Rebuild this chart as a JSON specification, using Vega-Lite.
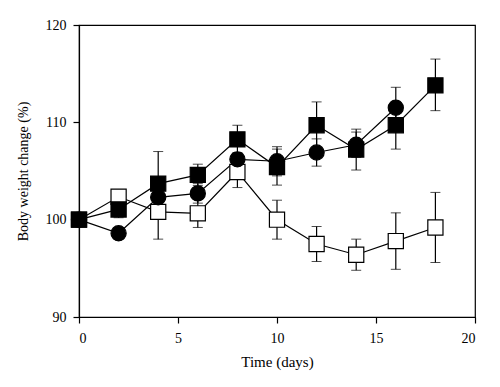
{
  "$schema": "https://vega.github.io/schema/vega-lite/v6.json",
  "autosize": "none",
  "width": 396,
  "height": 292,
  "padding": {"left": 79, "top": 25, "right": 25, "bottom": 70},
  "background": "white",
  "config": {
    "view": {"stroke": "black", "strokeWidth": 1.2},
    "font": "Liberation Serif",
    "axis": {
      "domainColor": "black", "tickColor": "black", "labelColor": "black", "titleColor": "black",
      "grid": false, "labelFont": "Liberation Serif", "titleFont": "Liberation Serif",
      "labelFontSize": 14, "titleFontSize": 14, "titleFontWeight": "normal",
      "tickSize": 6, "domainWidth": 1.2, "tickWidth": 1.2
    }
  },
  "data": {
    "values": [
      {"group": "C", "day": 0, "mean": 100, "lo": 100, "hi": 100},
      {"group": "C", "day": 2, "mean": 102.35, "lo": 101.9, "hi": 102.8},
      {"group": "C", "day": 4, "mean": 100.8, "lo": 98.0, "hi": 103.6},
      {"group": "C", "day": 6, "mean": 100.65, "lo": 99.2, "hi": 102.1},
      {"group": "C", "day": 8, "mean": 104.9, "lo": 103.3, "hi": 106.5},
      {"group": "C", "day": 10, "mean": 100.0, "lo": 98.0, "hi": 102.0},
      {"group": "C", "day": 12, "mean": 97.5, "lo": 95.7, "hi": 99.3},
      {"group": "C", "day": 14, "mean": 96.4, "lo": 94.8, "hi": 98.0},
      {"group": "C", "day": 16, "mean": 97.8, "lo": 94.9, "hi": 100.7},
      {"group": "C", "day": 18, "mean": 99.2, "lo": 95.6, "hi": 102.8},
      {"group": "A", "day": 0, "mean": 100, "lo": 100, "hi": 100},
      {"group": "A", "day": 2, "mean": 101.05, "lo": 100.2, "hi": 101.9},
      {"group": "A", "day": 4, "mean": 103.7, "lo": 100.4, "hi": 107.0},
      {"group": "A", "day": 6, "mean": 104.6, "lo": 103.5, "hi": 105.7},
      {"group": "A", "day": 8, "mean": 108.25, "lo": 106.8, "hi": 109.7},
      {"group": "A", "day": 10, "mean": 105.4, "lo": 103.55, "hi": 107.25},
      {"group": "A", "day": 12, "mean": 109.7, "lo": 107.3, "hi": 112.1},
      {"group": "A", "day": 14, "mean": 107.2, "lo": 105.1, "hi": 109.3},
      {"group": "A", "day": 16, "mean": 109.7, "lo": 107.25, "hi": 112.15},
      {"group": "A", "day": 18, "mean": 113.8, "lo": 111.2, "hi": 116.5},
      {"group": "B", "day": 0, "mean": 100, "lo": 100, "hi": 100},
      {"group": "B", "day": 2, "mean": 98.6, "lo": 98.0, "hi": 99.2},
      {"group": "B", "day": 4, "mean": 102.3, "lo": 101.5, "hi": 103.1},
      {"group": "B", "day": 6, "mean": 102.7, "lo": 101.7, "hi": 103.7},
      {"group": "B", "day": 8, "mean": 106.2, "lo": 105.5, "hi": 106.9},
      {"group": "B", "day": 10, "mean": 106.0, "lo": 104.5, "hi": 107.5},
      {"group": "B", "day": 12, "mean": 106.9, "lo": 105.5, "hi": 108.3},
      {"group": "B", "day": 14, "mean": 107.7, "lo": 106.4, "hi": 109.0},
      {"group": "B", "day": 16, "mean": 111.5, "lo": 109.4, "hi": 113.6}
    ]
  },
  "encoding": {
    "x": {
      "field": "day", "type": "quantitative",
      "scale": {"domain": [0, 20], "nice": false},
      "axis": {"values": [0, 5, 10, 15, 20], "title": "Time (days)", "titleFontSize": 15, "labelPadding": 8, "titlePadding": 9}
    }
  },
  "layer": [
    {
      "mark": {"type": "line", "color": "black", "strokeWidth": 1.2},
      "encoding": {
        "y": {
          "field": "mean", "type": "quantitative",
          "title": "Body weight change (%)",
          "scale": {"domain": [90, 120], "nice": false, "zero": false},
          "axis": {"values": [90, 100, 110, 120], "labelPadding": 7, "titlePadding": 15}
        },
        "detail": {"field": "group"}
      }
    },
    {
      "mark": {"type": "errorbar", "ticks": {"size": 10, "color": "black", "strokeWidth": 1.2}, "rule": {"color": "black", "strokeWidth": 1.2}},
      "encoding": {
        "y": {"field": "lo", "type": "quantitative", "title": "Body weight change (%)"},
        "y2": {"field": "hi"},
        "detail": {"field": "group"}
      }
    },
    {
      "mark": {"type": "point", "filled": false, "opacity": 1, "stroke": "black", "strokeWidth": 1.2, "size": 230},
      "encoding": {
        "y": {"field": "mean", "type": "quantitative", "title": "Body weight change (%)"},
        "shape": {"field": "group", "type": "nominal", "scale": {"domain": ["A", "B", "C"], "range": ["square", "circle", "square"]}, "legend": null},
        "fill": {"field": "group", "type": "nominal", "scale": {"domain": ["A", "B", "C"], "range": ["black", "black", "white"]}, "legend": null}
      }
    }
  ]
}
